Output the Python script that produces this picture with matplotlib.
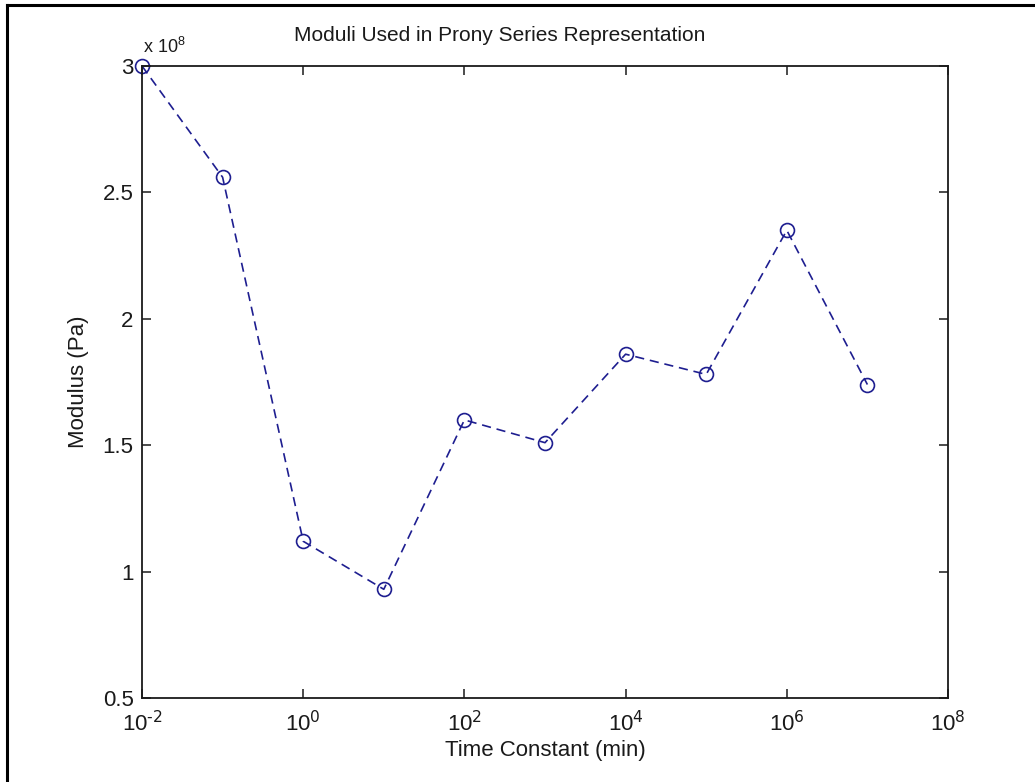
import matplotlib
matplotlib.use("Agg")
import matplotlib.pyplot as plt
import numpy as np
from matplotlib.ticker import FixedLocator, FuncFormatter, NullLocator
from matplotlib.lines import Line2D

# Prony series terms: relaxation time constants and their moduli
tau_min = [1e-2, 1e-1, 1e0, 1e1, 1e2, 1e3, 1e4, 1e5, 1e6, 1e7]
modulus_pa = [3.00e8, 2.56e8, 1.12e8, 0.93e8, 1.60e8, 1.51e8, 1.86e8, 1.78e8, 2.35e8, 1.74e8]

x_ticks = [1e-2, 1e0, 1e2, 1e4, 1e6, 1e8]
y_ticks = [0.5e8, 1.0e8, 1.5e8, 2.0e8, 2.5e8, 3.0e8]

plt.rcParams['font.family'] = ['Liberation Sans', 'DejaVu Sans']
plt.rcParams['mathtext.default'] = 'regular'
plt.rcParams['axes.unicode_minus'] = False

W, H = 1035, 782
fig = plt.figure(figsize=(W / 100, H / 100), dpi=100)
ax = fig.add_axes([142 / W, 84 / H, 806 / W, 632 / H])

line_col = '#1e1e90'
ax.plot(tau_min, modulus_pa, color=line_col, linestyle=(0, (5.5, 3.5)), linewidth=1.2,
        marker='o', markersize=10, markerfacecolor='none', markeredgecolor=line_col,
        markeredgewidth=1.2, clip_on=False)


def pow10_label(v, pos):
    # plain hyphen in the exponent instead of a minus sign
    return r'$10^{\text{%d}}$' % round(np.log10(v))


ax.set_xscale('log')
ax.set_xlim(1e-2, 1e8)
ax.set_ylim(0.5e8, 3.0e8)
ax.xaxis.set_major_locator(FixedLocator(x_ticks))
ax.xaxis.set_minor_locator(NullLocator())
ax.xaxis.set_major_formatter(FuncFormatter(pow10_label))
ax.yaxis.set_major_locator(FixedLocator(y_ticks))
ax.yaxis.set_major_formatter(FuncFormatter(lambda v, p: f'{v / 1e8:g}'))

for s in ax.spines.values():
    s.set_linewidth(1.3)
    s.set_color('#1a1a1a')
ax.tick_params(direction='in', length=6.5, width=1.1, top=True, right=True,
               labelsize=16, colors='#1a1a1a')
ax.tick_params(axis='x', pad=9)
ax.tick_params(axis='y', pad=6)

ax.set_xlabel('Time Constant (min)', fontsize=16, labelpad=3, color='#1a1a1a')
ax.set_ylabel('Modulus (Pa)', fontsize=16, labelpad=10, color='#1a1a1a')

# scale factor above the y axis
fig.text(143 / W, 1 - 53 / H, r'x $10^{8}$', fontsize=13, va='baseline', ha='left',
         color='#1a1a1a')
fig.text(500 / W, 1 - 41 / H, 'Moduli Used in Prony Series Representation',
         fontsize=15, va='baseline', ha='center', color='#1a1a1a')

# frame edges along the top and left
fig.add_artist(Line2D([6.5 / W, 1], [1 - 4.5 / H, 1 - 4.5 / H], color='black', linewidth=2.2))
fig.add_artist(Line2D([6.5 / W, 6.5 / W], [0, 1 - 4.5 / H], color='black', linewidth=2.2))

fig.savefig('out.png', dpi=100)
